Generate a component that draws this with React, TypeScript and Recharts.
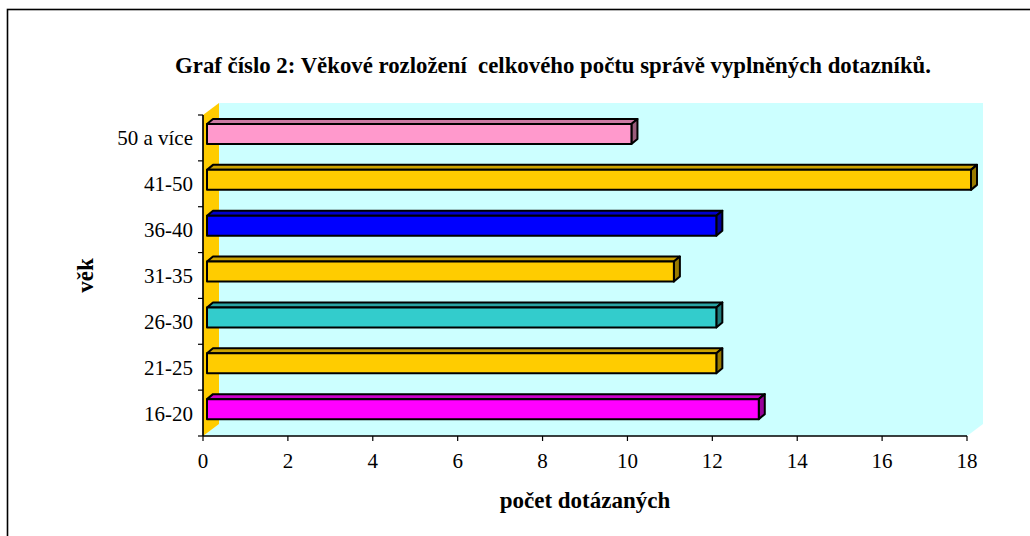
import React from 'react';
import { BarChart, Bar, XAxis, YAxis, Cell, ReferenceArea } from 'recharts';

const AGES = ['16-20', '21-25', '26-30', '31-35', '36-40', '41-50', '50 a více'];
const COUNTS = [13, 12, 12, 11, 12, 18, 10];
const COLORS = ['#FF00FF', '#FFCC00', '#33CCCC', '#FFCC00', '#0000FF', '#FFCC00', '#FF99CC'];
const X_TICKS = [0, 2, 4, 6, 8, 10, 12, 14, 16, 18];
const TITLE = 'Graf číslo 2: Věkové rozložení  celkového počtu správě vyplněných dotazníků.';
const X_LABEL = 'počet dotázaných';
const Y_LABEL = 'věk';

const data = AGES.map((age, i) => ({ age, value: COUNTS[i] }));

const FONT = '"Liberation Serif", "Times New Roman", serif';
const DEPTH_X = 16;
const DEPTH_Y = 12;

function shade(hex: string, f: number): string {
  const n = parseInt(hex.slice(1), 16);
  const r = Math.round(((n >> 16) & 255) * f);
  const g = Math.round(((n >> 8) & 255) * f);
  const b = Math.round((n & 255) * f);
  return `rgb(${r},${g},${b})`;
}

const Bar3D = (props: any) => {
  const { x, y, width, height, fill } = props;
  if (width == null || height == null) return null;
  const fx = x + 4;
  const fy = y - 4;
  const w = width;
  const h = height;
  const dx = 6;
  const dy = 5;
  const top = `${fx},${fy} ${fx + dx},${fy - dy} ${fx + w + dx},${fy - dy} ${fx + w},${fy}`;
  const side = `${fx + w},${fy} ${fx + w + dx},${fy - dy} ${fx + w + dx},${fy + h - dy} ${fx + w},${fy + h}`;
  return (
    <g stroke="#000" strokeWidth={2} strokeLinejoin="round">
      <polygon points={top} fill={shade(fill, 0.8)} />
      <polygon points={side} fill={shade(fill, 0.6)} />
      <rect x={fx} y={fy} width={w} height={h} fill={fill} />
    </g>
  );
};

const Walls = (props: any) => {
  const { x, y, width, height } = props;
  if (x == null || width == null) return null;
  const n = AGES.length;
  const floor = `${x},${y + height} ${x + width},${y + height} ${x + width + DEPTH_X},${y + height - DEPTH_Y} ${x + DEPTH_X},${y + height - DEPTH_Y}`;
  const sideWall = `${x},${y} ${x + DEPTH_X},${y - DEPTH_Y} ${x + DEPTH_X},${y + height - DEPTH_Y} ${x},${y + height}`;
  const ticks = [];
  for (let i = 0; i <= n; i++) {
    const ty = y + (i * height) / n;
    ticks.push(<line key={i} x1={x - 5} y1={ty} x2={x} y2={ty} stroke="#000" strokeWidth={1.2} />);
  }
  return (
    <g>
      <rect x={x + DEPTH_X} y={y - DEPTH_Y} width={width} height={height} fill="#CCFFFF" />
      <polygon points={floor} fill="#CCFFFF" />
      <polygon points={sideWall} fill="#FFCC00" />
      <line x1={x} y1={y} x2={x} y2={y + height} stroke="#000" strokeWidth={1.2} />
      <line x1={x} y1={y + height} x2={x + width} y2={y + height} stroke="#000" strokeWidth={1.2} />
      {ticks}
    </g>
  );
};

const YLabel = (props: any) => {
  const vb = props.viewBox || {};
  const cx = (vb.x ?? 103) - 10;
  const cy = (vb.y ?? 115) + (vb.height ?? 321) / 2;
  return (
    <text
      x={cx}
      y={cy}
      transform={`rotate(-90 ${cx} ${cy})`}
      textAnchor="middle"
      fontFamily={FONT}
      fontWeight="bold"
      fontSize={23}
      fill="#000"
    >
      {Y_LABEL}
    </text>
  );
};

export default function App() {
  return (
    <div style={{ position: 'absolute', left: 0, top: 0, width: 1030, height: 536, background: '#fff' }}>
      <svg width={1030} height={536} style={{ position: 'absolute', left: 0, top: 0 }}>
        <rect x={7.5} y={9.5} width={1100} height={600} fill="none" stroke="#000" strokeWidth={1.6} />
        <text
          x={553}
          y={73}
          textAnchor="middle"
          fontFamily={FONT}
          fontWeight="bold"
          fontSize={22.8}
          fill="#000"
          style={{ whiteSpace: 'pre' }}
        >
          {TITLE}
        </text>
      </svg>
      <div style={{ position: 'absolute', left: 0, top: 0 }}>
        <BarChart
          width={1030}
          height={536}
          data={data}
          layout="vertical"
          margin={{ top: 115, right: 63, bottom: 0, left: 103 }}
          barSize={20}
        >
          <ReferenceArea x1={0} x2={18} shape={<Walls />} ifOverflow="visible" />
          <XAxis
            type="number"
            domain={[0, 18]}
            ticks={X_TICKS}
            interval={0}
            height={100}
            tickSize={5}
            tickMargin={12}
            axisLine={{ stroke: '#000', strokeWidth: 1.2 }}
            tickLine={{ stroke: '#000', strokeWidth: 1.2 }}
            tick={{ fill: '#000', fontSize: 21, fontFamily: FONT }}
            label={{
              value: X_LABEL,
              position: 'insideBottom',
              offset: 28,
              fill: '#000',
              fontSize: 23,
              fontWeight: 'bold',
              fontFamily: FONT,
            }}
          />
          <YAxis
            type="category"
            dataKey="age"
            reversed
            width={100}
            interval={0}
            tickSize={5}
            tickMargin={5}
            tickLine={false}
            axisLine={{ stroke: '#000', strokeWidth: 1.2 }}
            tick={{ fill: '#000', fontSize: 21, fontFamily: FONT }}
            label={<YLabel />}
          />
          <Bar dataKey="value" isAnimationActive={false} shape={<Bar3D />}>
            {data.map((d, i) => (
              <Cell key={d.age} fill={COLORS[i]} />
            ))}
          </Bar>
        </BarChart>
      </div>
    </div>
  );
}
